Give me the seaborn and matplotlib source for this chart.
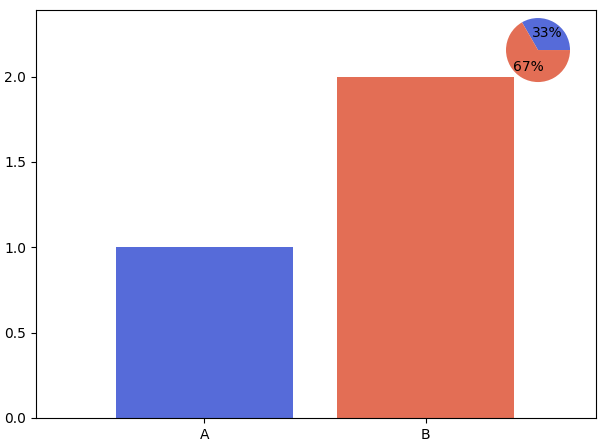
import matplotlib
matplotlib.use("Agg")
import matplotlib.pyplot as plt
import seaborn as sns

# Data
categories = ["A", "B"]
values = [1, 2]
colors = ["#566bd9", "#e36e55"]

fig = plt.figure(figsize=(6.04, 4.48), dpi=100)
ax = fig.add_axes([0.0596, 0.067, 0.9272, 0.9107])

sns.barplot(x=categories, y=values, hue=categories, palette=colors,
            legend=False, saturation=1, width=0.8, ax=ax)
ax.set_xlim(-0.76, 1.77)
ax.set_ylim(0, 2.39)
ax.set_yticks([0.0, 0.5, 1.0, 1.5, 2.0])
ax.set_xlabel("")
ax.set_ylabel("")

# Pie inset
pax = fig.add_axes([0.8245, 0.799, 0.1325, 0.1786])
pax.pie(values, colors=colors, autopct="%1.0f%%")

fig.savefig("out.png", dpi=100)
